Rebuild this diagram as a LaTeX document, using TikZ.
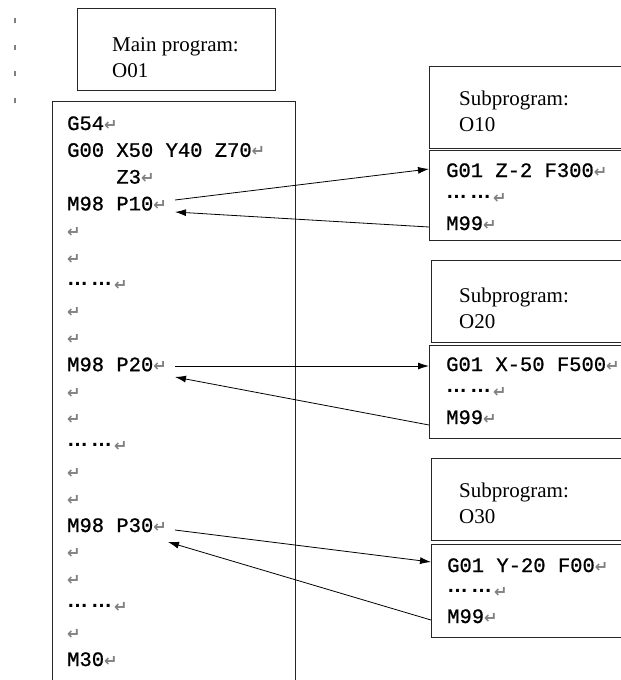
\documentclass[tikz,border=0pt]{standalone}
\usepackage{fontspec}
\setmainfont{Liberation Serif}
\newfontfamily\codefont{Liberation Mono}[BoldFont={Liberation Mono},
  BoldFeatures={FakeBold=0.9}]
\newfontfamily\symfont{DejaVu Sans}
\newfontfamily\dotfont{Liberation Sans}
\usepackage{tikz}
\usetikzlibrary{arrows.meta,positioning,calc}

\definecolor{retgray}{gray}{0.5}
\newcommand{\crmark}{{\symfont\fontsize{16}{16}\selectfont\textcolor{retgray}{↵}}}
\newcommand{\cnddots}{\raisebox{5pt}{\dotfont\bfseries\fontsize{21}{21}\selectfont…\hspace{3pt}…}\hspace{2pt}}

\tikzset{
  box/.style={draw=black!85, line width=1pt, anchor=north west, inner sep=0pt},
  code/.style={anchor=base west, inner sep=0pt,
    font=\fontsize{20.5}{20.5}\codefont\bfseries},
  title/.style={anchor=base west, inner sep=0pt, align=left,
    font=\fontsize{21}{25.5}\selectfont},
  call/.style={->, line width=0.8pt},
}

\begin{document}
\begin{tikzpicture}[>={Latex[length=11pt,width=7pt]}, x=1pt, y=-1pt]
  \useasboundingbox (0,0) rectangle (621,680);
  \clip (0,0) rectangle (621,680);

  % margin marks
  \foreach \y in {18,45,71,98}
    \draw[retgray, line width=1.5pt] (15,\y) -- (15,\y+5);

  % main program
  \node[box, minimum width=198pt, minimum height=82pt] (maintitle) at (77,8) {};
  \node[title] (maintxt) at (112,77) {Main program:\\O01};
  \node[box, minimum width=243pt, minimum height=620pt] (mainbox) at (52,101) {};
  \foreach \i/\t in {0/G54\crmark, 1/G00 X50 Y40 Z70\crmark,
      2/\phantom{0000}Z3\crmark, 3/M98 P10\crmark, 4/\crmark, 5/\crmark,
      6/\cnddots\crmark, 7/\crmark, 8/\crmark, 9/M98 P20\crmark,
      10/\crmark, 11/\crmark, 12/\cnddots\crmark, 13/\crmark, 14/\crmark,
      15/M98 P30\crmark, 16/\crmark, 17/\crmark, 18/\cnddots\crmark,
      19/\crmark, 20/M30\crmark}
    \node[code] (m\i) at (67,{130+26.8*\i}) {\t};

  % subprograms
  \node[box, minimum width=200pt, minimum height=82pt] (subtitle1) at (429,66) {};
  \node[title] (subtxt1) at (459,131) {Subprogram:\\O10};
  \node[box, minimum width=200pt, minimum height=90pt] (sub1) at (429,150) {};
  \node[code] (s1a) at (446,177) {G01 Z-2 F300\crmark};
  \node[code] (s1b) at (446,203) {\cnddots\crmark};
  \node[code] (s1c) at (446,230) {M99\crmark};

  \node[box, minimum width=200pt, minimum height=82pt] (subtitle2) at (431,260) {};
  \node[title] (subtxt2) at (459,328) {Subprogram:\\O20};
  \node[box, minimum width=200pt, minimum height=93pt] (sub2) at (429,345) {};
  \node[code] (s2a) at (446,371) {G01 X-50 F500\crmark};
  \node[code] (s2b) at (446,397) {\cnddots\crmark};
  \node[code] (s2c) at (446,424) {M99\crmark};

  \node[box, minimum width=200pt, minimum height=82pt] (subtitle3) at (431,458) {};
  \node[title] (subtxt3) at (459,523) {Subprogram:\\O30};
  \node[box, minimum width=200pt, minimum height=93pt] (sub3) at (431,544) {};
  \node[code] (s3a) at (447,572) {G01 Y-20 F00\crmark};
  \node[code] (s3b) at (447,597) {\cnddots\crmark};
  \node[code] (s3c) at (447,623) {M99\crmark};

  % call and return points
  \coordinate (p10out) at (175,200);  \coordinate (p10back) at (175,212);
  \coordinate (o10in) at (429,169);   \coordinate (o10out) at (429,227);
  \coordinate (p20out) at (175,366);  \coordinate (p20back) at (175,377);
  \coordinate (o20in) at (429,366);   \coordinate (o20out) at (429,425);
  \coordinate (p30out) at (175,530);  \coordinate (p30back) at (168,542);
  \coordinate (o30in) at (431,562);   \coordinate (o30out) at (431,620);

  \draw[call] (p10out) -- (o10in);
  \draw[call] (o10out) -- (p10back);
  \draw[call] (p20out) -- (o20in);
  \draw[call] (o20out) -- (p20back);
  \draw[call] (p30out) -- (o30in);
  \draw[call] (o30out) -- (p30back);
\end{tikzpicture}
\end{document}
